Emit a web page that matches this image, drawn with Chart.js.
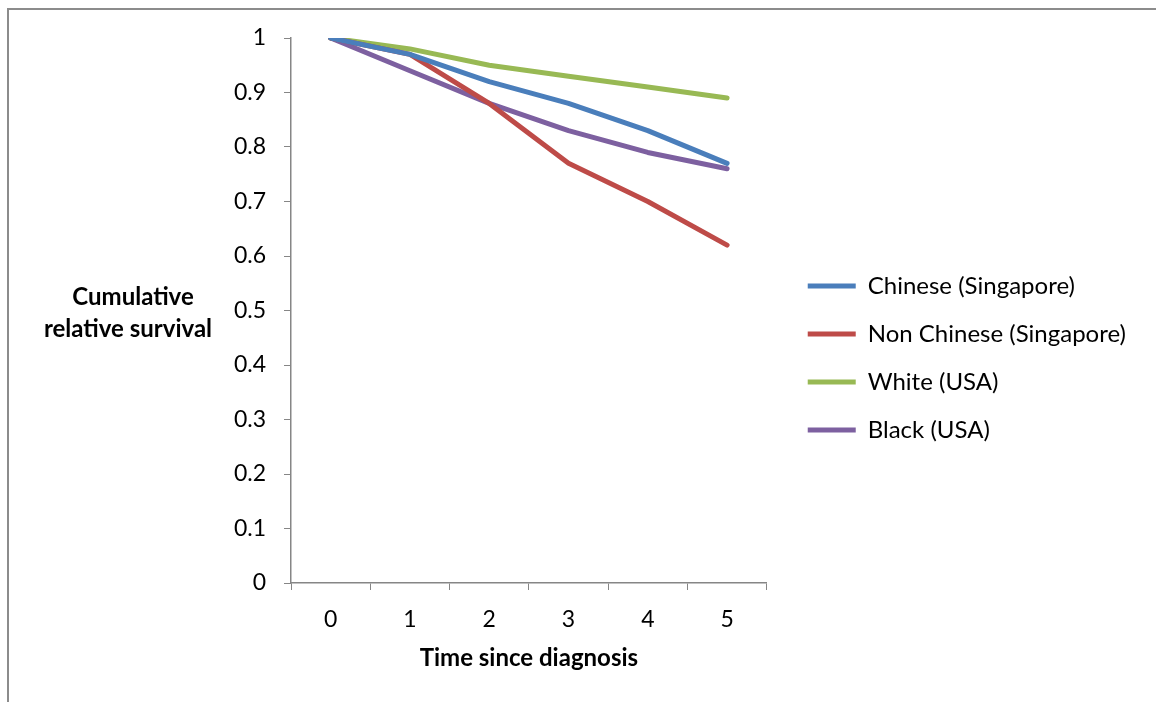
<!DOCTYPE html>
<html>
<head>
<meta charset="utf-8">
<script src="https://cdn.jsdelivr.net/npm/chart.js@4/dist/chart.umd.min.js"></script>
<style>
  html, body { margin: 0; padding: 0; background: #fff; }
  #wrap { position: relative; width: 1156px; height: 702px; overflow: hidden; }
  #frame { position: absolute; left: 7px; top: 8px; width: 1200px; height: 800px;
           border-left: 2px solid #8c8c8c; border-top: 2px solid #8c8c8c; box-sizing: border-box; }
  canvas { position: absolute; left: 0; top: 0; }
</style>
</head>
<body>
<div id="wrap">
  <div id="frame"></div>
  <canvas id="survivalChart" width="1156" height="702"></canvas>
</div>
<script>
const years = ['0', '1', '2', '3', '4', '5'];
const chineseSg = [1, 0.97, 0.92, 0.88, 0.83, 0.77];
const nonChineseSg = [1, 0.97, 0.88, 0.77, 0.70, 0.62];
const whiteUsa = [1, 0.98, 0.95, 0.93, 0.91, 0.89];
const blackUsa = [1, 0.94, 0.88, 0.83, 0.79, 0.76];

const font = 'Lato';
const axisGrey = '#868686';

function series(label, values, colour) {
    return {
        label: label,
        data: values,
        borderColor: colour,
        backgroundColor: colour,
        borderWidth: 5,
        borderCapStyle: 'round',
        borderJoinStyle: 'round',
        pointRadius: 0,
        tension: 0,
    };
}

// y axis title sits horizontally to the left of the ticks, like Excel does it
const yTitle = {
    id: 'yTitle',
    afterDraw(chart) {
        const ctx = chart.ctx;
        const y = chart.scales.y.getPixelForValue(0.5);
        ctx.save();
        ctx.font = 'bold 24px ' + font;
        ctx.fillStyle = '#000';
        ctx.textAlign = 'center';
        ctx.textBaseline = 'middle';
        ctx.fillText('Cumulative', 133, y - 13);
        ctx.fillText('relative survival', 128, y + 19);
        ctx.restore();
    }
};

new Chart(document.getElementById('survivalChart'), {
    type: 'line',
    data: {
        labels: years,
        datasets: [
            series('Chinese (Singapore)', chineseSg, '#4a7ebb'),
            series('Non Chinese (Singapore)', nonChineseSg, '#be4b48'),
            series('White (USA)', whiteUsa, '#98b954'),
            series('Black (USA)', blackUsa, '#7d60a0'),
        ]
    },
    options: {
        responsive: false,
        animation: false,
        layout: { padding: { top: 38, bottom: 24, left: 0, right: 20 } },
        plugins: {
            tooltip: { enabled: false },
            legend: {
                position: 'right',
                maxWidth: 372,
                labels: {
                    usePointStyle: true,
                    pointStyle: 'line',
                    pointStyleWidth: 48,
                    color: '#000',
                    padding: 24,
                    font: { family: font, size: 24, lineHeight: 1 },
                }
            }
        },
        scales: {
            x: {
                offset: true,
                grid: { offset: true, drawOnChartArea: false, tickLength: 7, color: axisGrey },
                border: { color: axisGrey, width: 1.5 },
                ticks: { color: '#000', padding: 16, font: { family: font, size: 23 } },
                title: {
                    display: true,
                    text: 'Time since diagnosis',
                    color: '#000',
                    padding: { bottom: 5 },
                    font: { family: font, size: 24, weight: 'bold' }
                },
                afterFit(scale) { scale.height = 95; }
            },
            y: {
                min: 0,
                max: 1,
                grid: { drawOnChartArea: false, tickLength: 7, color: axisGrey },
                border: { color: axisGrey, width: 1.5 },
                ticks: {
                    stepSize: 0.1,
                    color: '#000',
                    padding: 18,
                    font: { family: font, size: 23 },
                    callback: (v) => String(Math.round(v * 10) / 10)
                },
                afterFit(scale) { scale.width = 291; }
            },
            // empty spacer between the plot and the legend
            gap: {
                type: 'linear',
                position: 'right',
                display: true,
                grid: { display: false },
                border: { display: false },
                ticks: { display: false },
                afterFit(scale) { scale.width = 17; }
            }
        }
    },
    plugins: [yTitle]
});
</script>
</body>
</html>
